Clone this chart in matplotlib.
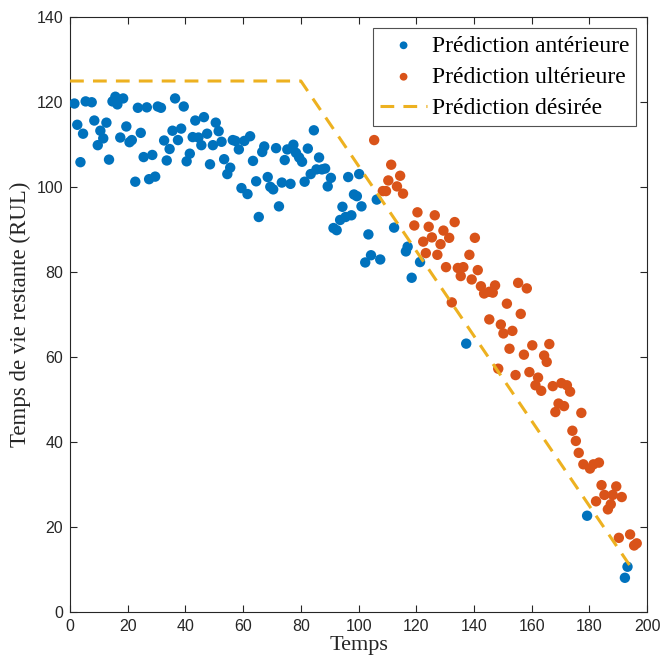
import matplotlib

matplotlib.use("Agg")
import matplotlib.pyplot as plt  # noqa: E402

# MATLAB default colours
BLUE, ORANGE, YELLOW = "#0072BD", "#D95319", "#EDB120"

# --- data ------------------------------------------------------------------
early_t = [1.5, 2.5, 3.6, 4.5, 5.4, 7.5, 8.4, 9.6, 10.5, 11.5, 12.6, 13.5, 14.7,
           15.7, 16.4, 17.4, 18.4, 19.5, 20.6, 21.4, 22.6, 23.5, 24.5, 25.5, 26.6,
           27.4, 28.5, 29.5, 30.4, 31.5, 32.6, 33.5, 34.5, 35.5, 36.4, 37.4, 38.5,
           39.4, 40.4, 41.5, 42.5, 43.4, 44.5, 45.5, 46.4, 47.5, 48.5, 49.5, 50.5,
           51.5, 52.5, 53.4, 54.5, 55.5, 56.4, 57.3, 58.5, 59.4, 60.4, 61.5, 62.4,
           63.4, 64.5, 65.4, 66.6, 67.3, 68.5, 69.4, 70.4, 71.4, 72.4, 73.4, 74.4,
           75.3, 76.4, 77.4, 78.3, 79.4, 80.4, 81.3, 82.4, 83.4, 84.5, 85.4, 86.3,
           87.3, 88.4, 89.3, 90.4, 91.3, 92.4, 93.6, 94.4, 95.5, 96.4, 97.5, 98.4,
           99.4, 100.2, 101.0, 102.3, 103.4, 104.3, 106.3, 107.5, 112.3, 116.4,
           117.0, 118.4, 121.3, 137.3, 179.2, 192.3, 193.2]
early_rul = [119.7, 114.7, 105.9, 112.6, 120.2, 120.0, 115.7, 109.9, 113.3, 111.5,
             115.2, 106.5, 120.2, 121.3, 119.5, 111.7, 120.9, 114.3, 110.6, 111.1,
             101.3, 118.7, 112.8, 107.1, 118.8, 101.9, 107.6, 102.5, 119.0, 118.7,
             111.0, 106.3, 109.0, 113.3, 120.9, 111.1, 113.8, 119.0, 106.1, 107.9,
             111.8, 115.7, 111.7, 109.9, 116.5, 112.6, 105.4, 109.9, 115.2, 113.2,
             110.7, 106.6, 103.1, 104.6, 111.1, 110.9, 108.9, 99.8, 110.9, 98.4,
             112.0, 106.2, 101.4, 93.0, 108.3, 109.6, 102.4, 100.1, 99.5, 109.2,
             95.5, 101.1, 106.4, 108.9, 100.8, 110.0, 108.1, 107.0, 106.0, 101.3,
             109.1, 103.1, 113.4, 104.2, 107.0, 104.2, 104.4, 100.2, 102.2, 90.4,
             89.9, 92.3, 95.4, 93.0, 102.4, 93.4, 98.3, 97.9, 103.1, 95.5,
             82.3, 88.9, 84.0, 97.1, 83.0, 90.5, 84.9, 86.0, 78.7, 82.4,
             63.2, 22.7, 8.1, 10.7]

late_t = [105.4, 108.4, 109.5, 110.3, 111.3, 113.3, 114.4, 115.4, 119.3, 120.4,
          122.4, 123.3, 124.3, 125.4, 126.4, 127.3, 128.4, 129.4, 130.3, 131.4,
          132.3, 133.3, 134.4, 135.4, 136.3, 138.4, 139.2, 140.3, 141.3, 142.4,
          143.5, 145.3, 146.5, 147.3, 145.3, 148.4, 149.3, 150.2, 151.4, 152.3,
          153.3, 154.4, 155.3, 156.2, 157.3, 158.3, 159.2, 160.2, 161.3, 162.2,
          163.3, 164.3, 165.2, 166.1, 167.3, 168.2, 169.3, 170.3, 171.2, 172.2,
          173.3, 174.1, 175.3, 176.3, 177.2, 177.9, 180.2, 181.4, 182.3, 183.3,
          184.2, 185.2, 186.4, 187.4, 188.1, 189.3, 190.2, 191.2, 194.1, 195.5,
          196.4]
late_rul = [111.1, 99.1, 99.1, 101.6, 105.3, 100.2, 102.7, 98.5, 91.0, 94.1,
            87.2, 84.5, 90.7, 88.2, 93.4, 84.1, 86.6, 89.8, 81.2, 88.1,
            72.9, 91.8, 81.0, 79.1, 81.2, 84.1, 78.3, 88.1, 80.5, 76.7,
            75.0, 75.4, 75.2, 76.9, 68.9, 57.3, 67.7, 65.6, 72.6, 62.0,
            66.2, 55.8, 77.5, 70.2, 60.6, 76.2, 56.5, 62.8, 53.4, 55.2,
            52.1, 60.4, 58.9, 63.1, 53.2, 47.1, 49.1, 53.9, 48.5, 53.4,
            51.9, 42.7, 40.3, 37.5, 46.9, 34.8, 33.8, 34.8, 26.1, 35.2,
            29.9, 27.6, 24.2, 25.4, 27.6, 29.6, 17.5, 27.1, 18.3, 15.7,
            16.2]

target_t = [0, 80, 195]
target_rul = [125, 125, 10]

xticks = list(range(0, 201, 20))
yticks = list(range(0, 141, 20))

SERIF = ["Liberation Serif", "DejaVu Serif"]
plt.rcParams["font.family"] = ["Liberation Sans", "DejaVu Sans"]

fig = plt.figure(figsize=(6.61, 6.64), dpi=100)
ax = fig.add_axes([0.106, 0.078, 0.873, 0.896])

ax.scatter(early_t, early_rul, s=56, color=BLUE, edgecolors="none", zorder=3,
           label="Prédiction antérieure")
ax.scatter(late_t, late_rul, s=56, color=ORANGE, edgecolors="none", zorder=3,
           label="Prédiction ultérieure")
ax.plot(target_t, target_rul, ls=(0, (4.5, 3)), lw=2.2, color=YELLOW, zorder=4,
        label="Prédiction désirée")

ax.set_xlim(0, 200)
ax.set_ylim(0, 140)
ax.set_xticks(xticks)
ax.set_yticks(yticks)
ax.tick_params(direction="in", top=True, right=True, length=5, width=0.8,
               labelsize=11.5, colors="#262626", pad=5)
for sp in ax.spines.values():
    sp.set_color("#262626")
    sp.set_linewidth(0.8)

ax.set_xlabel("Temps", family=SERIF, fontsize=16, color="#262626", labelpad=1)
ax.set_ylabel("Temps de vie restante (RUL)", family=SERIF, fontsize=16.5,
              color="#262626", labelpad=4)

leg = ax.legend(loc="upper right", prop={"family": SERIF, "size": 17},
                frameon=True, fancybox=False, edgecolor="#262626",
                borderaxespad=0.45, handlelength=2.0, handletextpad=0.2,
                labelspacing=0.42, borderpad=0.3, scatterpoints=1,
                markerscale=0.75)
leg.get_frame().set_linewidth(0.8)

fig.savefig("out.png", dpi=100)
